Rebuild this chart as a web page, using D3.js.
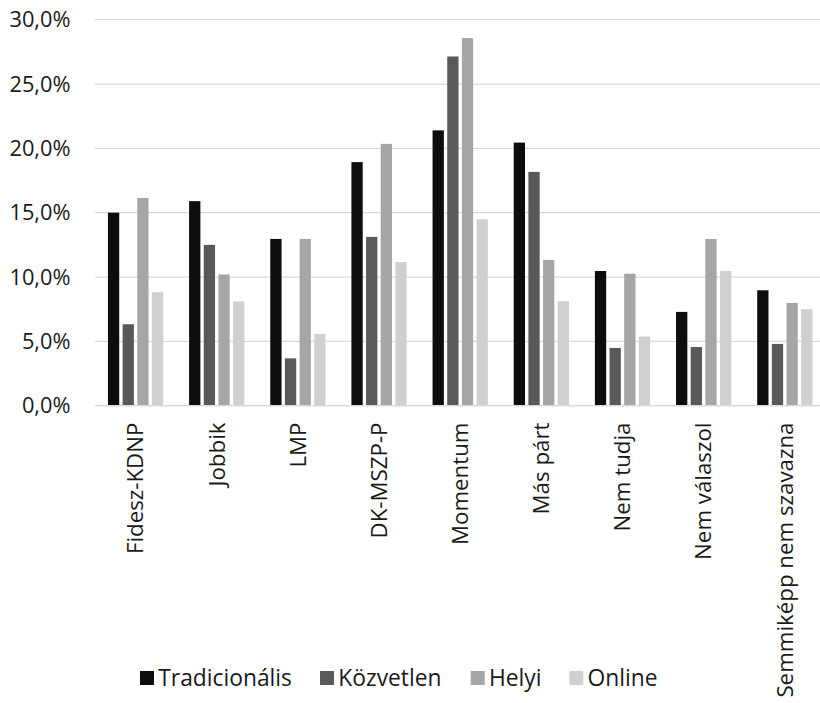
<!DOCTYPE html>
<html><head><meta charset="utf-8">
<script src="https://cdn.jsdelivr.net/npm/d3@7"></script>
<style>body{margin:0;background:#fff}svg{display:block;font-family:"Open Sans",sans-serif}</style>
</head><body><svg id="c" width="820" height="703"></svg>
<script>
const categories = ["Fidesz-KDNP","Jobbik","LMP","DK-MSZP-P","Momentum","Más párt","Nem tudja","Nem válaszol","Semmiképp nem szavazna"];
const seriesNames = ["Tradicionális","Közvetlen","Helyi","Online"];
const tradicionalis = [15.0,15.9,12.96,18.93,21.4,20.45,10.47,7.29,8.97];
const kozvetlen = [6.33,12.5,3.68,13.12,27.14,18.17,4.49,4.56,4.8];
const helyi = [16.15,10.2,12.96,20.35,28.57,11.33,10.26,12.96,7.99];
const online = [8.82,8.1,5.57,11.17,14.49,8.12,5.37,10.47,7.5];
const yTicks = [0,5,10,15,20,25,30];
const colors = ["#0d0d0d","#595959","#a6a6a6","#d0d0d0"];

const seriesValues = [tradicionalis,kozvetlen,helyi,online];
const svg = d3.select("#c");
const plotL = 95, plotR = 825.4, plotT = 19.7, plotB = 405.7;
const y = d3.scaleLinear().domain([0,30]).range([plotB, plotT]);
const x0 = d3.scaleBand().domain(categories).range([plotL, plotR]);
const x1 = d3.scaleBand().domain(seriesNames).range([12.95, x0.bandwidth()-12.95]).paddingInner(0.23);

// gridlines
svg.append("g").selectAll("line").data(yTicks).join("line")
  .attr("x1", plotL).attr("x2", 820)
  .attr("y1", d=>y(d)).attr("y2", d=>y(d))
  .attr("stroke", "#d9d9d9").attr("stroke-width", 1.3);

// y labels
svg.append("g").selectAll("text").data(yTicks).join("text")
  .attr("x", 70.5).attr("y", d=>y(d)).attr("dy","0.35em")
  .attr("text-anchor","end").attr("font-size",21.8).attr("fill","#1a1a1a")
  .text(d=>d3.format(".1f")(d).replace(".",",")+"%");

// bars
const groups = svg.append("g").selectAll("g").data(categories).join("g")
  .attr("transform", d=>`translate(${x0(d)},0)`);
groups.selectAll("rect").data((c,i)=>seriesNames.map((s,j)=>({s, j, v: seriesValues[j][i]}))).join("rect")
  .attr("x", d=>x1(d.s)).attr("width", x1.bandwidth())
  .attr("y", d=>y(d.v)).attr("height", d=>y(0)-y(d.v))
  .attr("fill", d=>colors[d.j]);

// baseline
svg.append("line").attr("x1",plotL).attr("x2",820).attr("y1",y(0)).attr("y2",y(0))
  .attr("stroke","#d9d9d9").attr("stroke-width",1.3);

// x labels
svg.append("g").selectAll("text").data(categories).join("text")
  .attr("transform", d=>`translate(${x0(d)+x0.bandwidth()/2},422.5) rotate(-90)`)
  .attr("dy","0.35em").attr("text-anchor","end").attr("font-size",22.3).attr("fill","#1a1a1a")
  .text(d=>d);

// legend
const legX = [140, 320, 470.7, 569.3];
const leg = svg.append("g").selectAll("g").data(seriesNames).join("g")
  .attr("transform",(d,i)=>`translate(${legX[i]},671)`);
leg.append("rect").attr("width",14).attr("height",14).attr("fill",(d,i)=>colors[i]);
leg.append("text").attr("x",18.3).attr("y",7).attr("dy","0.35em").attr("font-size",22.8).attr("fill","#1a1a1a").text(d=>d);
</script></body></html>
